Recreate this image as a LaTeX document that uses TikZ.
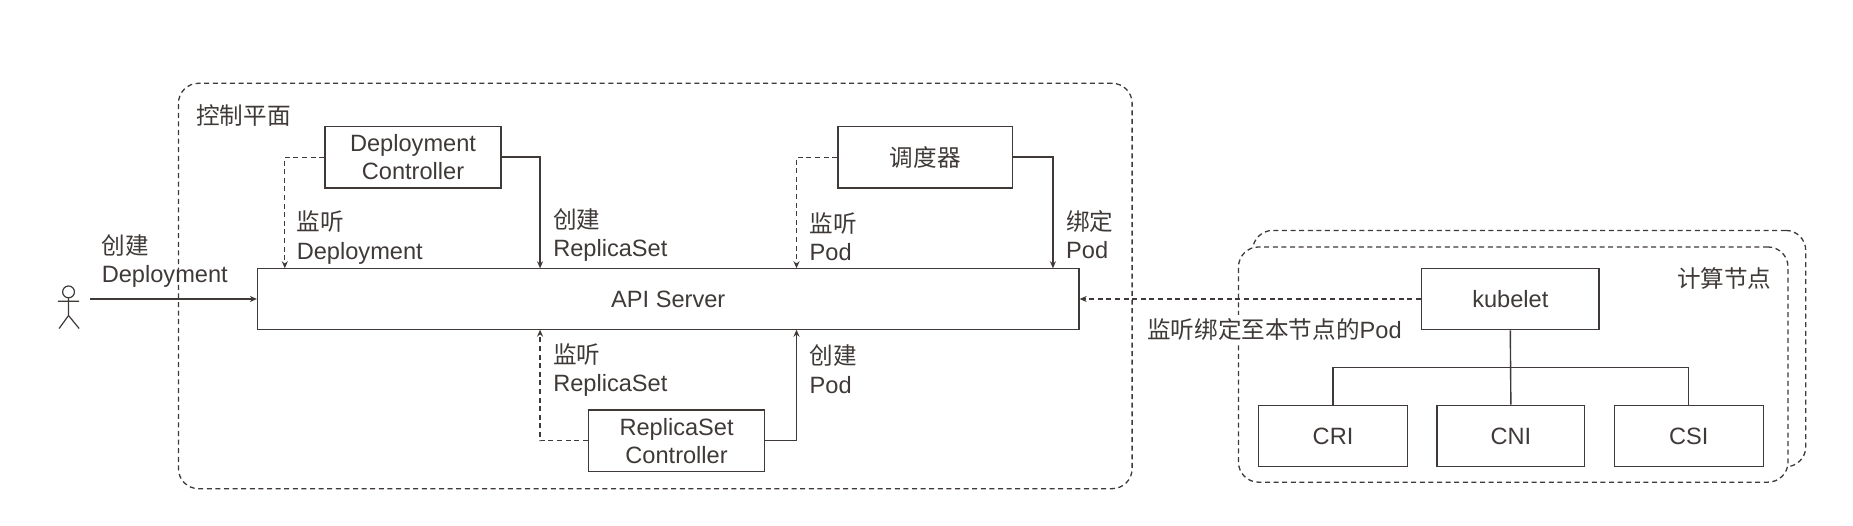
\documentclass[tikz,border=0pt]{standalone}
\usepackage{fontspec}
\setmainfont{Liberation Sans}
\newfontfamily\cjkfont{Noto Sans CJK SC}
\newcommand{\zh}[1]{{\cjkfont #1}}
\newcommand{\dn}[1]{\raisebox{-1.2pt}{#1}}
\usetikzlibrary{arrows.meta}
\definecolor{ink}{HTML}{3F3A38}
\tikzset{
  every node/.style={text=ink,font=\fontsize{23.6}{28.4}\selectfont},
  box/.style 2 args={draw=ink,line width=1.4pt,fill=white,align=center,inner sep=0pt,
    minimum width=#1*1.1818pt,minimum height=#2*1.1818pt},
  group/.style 2 args={draw=ink,line width=1.3pt,fill=white,rounded corners=20pt,
    dash pattern=on 5pt off 3.6pt,inner sep=0pt,
    minimum width=#1*1.1818pt,minimum height=#2*1.1818pt},
  lab/.style={anchor=west,align=left,inner sep=0pt},
  conn/.style={draw=ink,line width=1.4pt},
  dconn/.style={draw=ink,line width=1.3pt,dash pattern=on 5pt off 3.6pt},
  tip/.style={-{Stealth[length=7pt,width=6pt]}}
}
\begin{document}
\begin{tikzpicture}[x=1.1818pt,y=-1.1818pt]
\useasboundingbox[fill=white] (0,0) rectangle (1568,445);
% containers
\node[group={807}{343}] (plane) at (554.5,242) {};
\node[group={468}{200}] (back) at (1294,295) {};
\node[group={465}{199}] (front) at (1280.5,308.5) {};
\node[lab] (tplane) at (166,98) {\zh{控制平面}};
\node[lab] (tnode) at (1419,236) {\zh{计算节点}};
% boxes
\node[box={149}{52}] (dc) at (349.5,133) {\dn{Deployment}\\\dn{Controller}};
\node[box={148}{52}] (sch) at (783,133) {\dn{\zh{调度器}}};
\node[box={695}{52}] (api) at (565.5,253) {\dn{API Server}};
\node[box={149}{52}] (rs) at (572.5,373) {\dn{ReplicaSet}\\\dn{Controller}};
\node[lab,fill=white,inner xsep=2pt,inner ysep=4pt] (twatch) at (969,279) {\zh{监听绑定至本节点的}Pod};
\node[box={150}{52}] (kube) at (1278,253) {\dn{kubelet}};
\node[box={126}{52}] (cri) at (1128,369) {\dn{CRI}};
\node[box={125}{52}] (cni) at (1278.5,369) {\dn{CNI}};
\node[box={126}{52}] (csi) at (1429,369) {\dn{CSI}};
% anchors on the API Server
\coordinate (a1) at (241,227);
\coordinate (a2) at (457,227);
\coordinate (a3) at (674,227);
\coordinate (a4) at (891,227);
\coordinate (a5) at (457,279);
\coordinate (a6) at (674,279);
\coordinate (bus) at (1278,311);
\coordinate (ustart) at (76,253);
% connectors
\draw[dconn,tip] (dc.west) -| (a1);
\draw[conn,tip] (dc.east) -| (a2);
\draw[dconn,tip] (sch.west) -| (a3);
\draw[conn,tip] (sch.east) -| (a4);
\draw[dconn,tip] (rs.west) -| (a5);
\draw[conn,tip] (rs.east) -| (a6);
\draw[conn,tip] (ustart) -- (api.west);
\draw[dconn,tip] (kube.west) -- (api.east);
\draw[conn] (kube.south) -- (cni.north);
\draw[conn] (cri.north) |- (bus) -| (csi.north);
% actor
\draw[conn,line width=1.2pt] (58,247) circle (5);
\draw[conn,line width=1.2pt] (58,252) -- (58,267) (49,255) -- (67,255) (50,278) -- (58,267) -- (67,278);
% labels
\node[lab] (l1) at (86,221) {\zh{创建}\\Deployment};
\node[lab] (l2) at (251,201) {\zh{监听}\\Deployment};
\node[lab] (l3) at (468,199) {\zh{创建}\\ReplicaSet};
\node[lab] (l4) at (685,200.5) {\zh{监听}\\Pod};
\node[lab] (l5) at (902,198.5) {\zh{绑定}\\Pod};
\node[lab] (l6) at (468,313) {\zh{监听}\\ReplicaSet};
\node[lab] (l7) at (685,312.5) {\zh{创建}\\Pod};
\end{tikzpicture}
\end{document}
